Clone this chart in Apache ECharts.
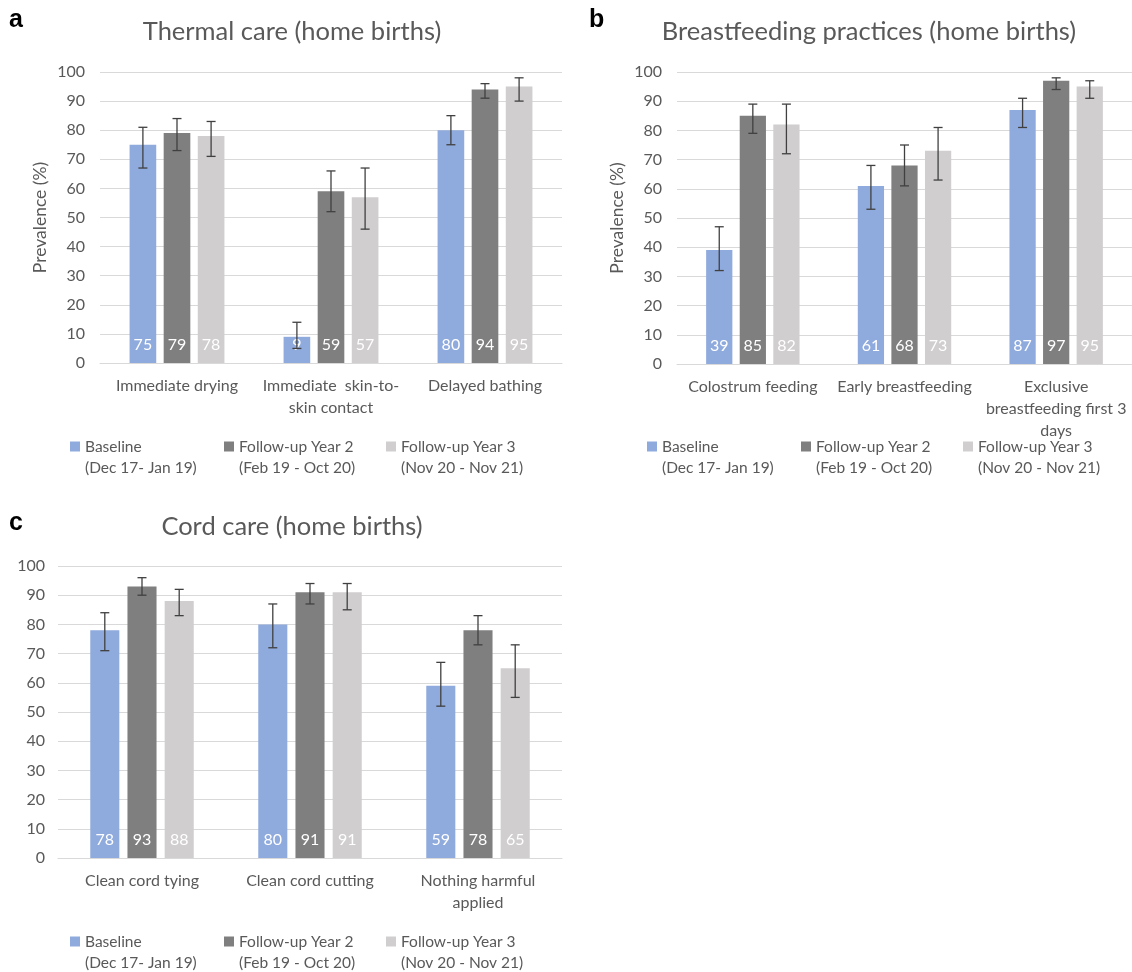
<!DOCTYPE html>
<html>
<head>
<meta charset="utf-8">
<script src="https://cdn.jsdelivr.net/npm/echarts@6/dist/echarts.min.js"></script>
<style>
html,body{margin:0;padding:0;background:#fff;}
#chart{width:1132px;height:972px;}
</style>
</head>
<body>
<div id="chart"></div>
<script>
// ---------- data ----------
const seriesNames = ['Baseline', 'Follow-up Year 2', 'Follow-up Year 3'];
const seriesPeriods = ['(Dec 17- Jan 19)', '(Feb 19 - Oct 20)', '(Nov 20 - Nov 21)'];
const yTicks = [0, 10, 20, 30, 40, 50, 60, 70, 80, 90, 100];

// a: Thermal care
const thermalCats = ['Immediate drying', 'Immediate  skin-to-\nskin contact', 'Delayed bathing'];
const thermalBaseline = [75, 9, 80];
const thermalYear2 = [79, 59, 94];
const thermalYear3 = [78, 57, 95];
const thermalBaselineLow = [67, 5, 75];
const thermalBaselineHigh = [81, 14, 85];
const thermalYear2Low = [73, 52, 91];
const thermalYear2High = [84, 66, 96];
const thermalYear3Low = [71, 46, 90];
const thermalYear3High = [83, 67, 98];

// b: Breastfeeding practices
const bfCats = ['Colostrum feeding', 'Early breastfeeding', 'Exclusive\nbreastfeeding first 3\ndays'];
const bfBaseline = [39, 61, 87];
const bfYear2 = [85, 68, 97];
const bfYear3 = [82, 73, 95];
const bfBaselineLow = [32, 53, 81];
const bfBaselineHigh = [47, 68, 91];
const bfYear2Low = [79, 61, 94];
const bfYear2High = [89, 75, 98];
const bfYear3Low = [72, 63, 91];
const bfYear3High = [89, 81, 97];

// c: Cord care
const cordCats = ['Clean cord tying', 'Clean cord cutting', 'Nothing harmful\napplied'];
const cordBaseline = [78, 80, 59];
const cordYear2 = [93, 91, 78];
const cordYear3 = [88, 91, 65];
const cordBaselineLow = [71, 72, 52];
const cordBaselineHigh = [84, 87, 67];
const cordYear2Low = [90, 87, 73];
const cordYear2High = [96, 94, 83];
const cordYear3Low = [83, 85, 55];
const cordYear3High = [92, 94, 73];

// ---------- styles ----------
const colors = ['#8FAADC', '#7F7F7F', '#D0CECE'];
const FONT = 'Lato';
const TXT = '#595959';
const FS = 16;
const BAR_FRAC = 0.173;
const GAP_FRAC = 0.28;

const panels = [
  { cats: thermalCats, vals: [thermalBaseline, thermalYear2, thermalYear3],
    lows: [thermalBaselineLow, thermalYear2Low, thermalYear3Low],
    highs: [thermalBaselineHigh, thermalYear2High, thermalYear3High],
    grid: { left: 100, top: 72, width: 462, height: 291 }, labelMargin: 15, yName: 'Prevalence (%)',
    legendLeft: [70, 224, 386], legendTop: 415 },
  { cats: bfCats, vals: [bfBaseline, bfYear2, bfYear3],
    lows: [bfBaselineLow, bfYear2Low, bfYear3Low],
    highs: [bfBaselineHigh, bfYear2High, bfYear3High],
    grid: { left: 677, top: 72, width: 463, height: 292 }, labelMargin: 15, yName: 'Prevalence (%)',
    legendLeft: [647, 801, 963], legendTop: 415 },
  { cats: cordCats, vals: [cordBaseline, cordYear2, cordYear3],
    lows: [cordBaselineLow, cordYear2Low, cordYear3Low],
    highs: [cordBaselineHigh, cordYear2High, cordYear3High],
    grid: { left: 58, top: 566, width: 504, height: 292 }, labelMargin: 13, yName: '',
    legendLeft: [70, 224, 386], legendTop: 910 }
];

function errRender(k) {
  return function (params, api) {
    const cat = api.value(0);
    const lo = api.coord([cat, api.value(1)]);
    const hi = api.coord([cat, api.value(2)]);
    const bandW = api.size([1, 0])[0];
    const bw = bandW * BAR_FRAC;
    const x = lo[0] + (k - 1) * bw * (1 + GAP_FRAC);
    const cap = 4.5;
    const st = { stroke: '#404040', lineWidth: 1.3 };
    return { type: 'group', children: [
      { type: 'line', shape: { x1: x, y1: hi[1], x2: x, y2: lo[1] }, style: st },
      { type: 'line', shape: { x1: x - cap, y1: hi[1], x2: x + cap, y2: hi[1] }, style: st },
      { type: 'line', shape: { x1: x - cap, y1: lo[1], x2: x + cap, y2: lo[1] }, style: st }
    ]};
  };
}

const grids = [], xAxes = [], yAxes = [], series = [], legends = [];
panels.forEach((p, i) => {
  grids.push(Object.assign({ containLabel: false }, p.grid));
  xAxes.push({
    type: 'category', gridIndex: i, data: p.cats,
    axisLine: { show: true, lineStyle: { color: '#D9D9D9', width: 1 } },
    axisTick: { show: false },
    axisLabel: { color: TXT, fontFamily: FONT, fontSize: FS, lineHeight: 22, margin: 12, interval: 0 }
  });
  yAxes.push({
    type: 'value', gridIndex: i, min: 0, max: 100, interval: 10,
    name: p.yName, nameLocation: 'middle', nameGap: 51, nameRotate: 90,
    nameTextStyle: { color: TXT, fontFamily: FONT, fontSize: 17.5 },
    axisLine: { show: false }, axisTick: { show: false },
    axisLabel: { color: TXT, fontFamily: FONT, fontSize: FS, margin: p.labelMargin,
      formatter: v => (yTicks.indexOf(v) >= 0 ? String(v) : '') },
    splitLine: { lineStyle: { color: '#D9D9D9', width: 1 } }
  });
  for (let k = 0; k < 3; k++) {
    series.push({
      name: seriesNames[k], type: 'bar', xAxisIndex: i, yAxisIndex: i,
      data: p.vals[k], barWidth: (BAR_FRAC * 100) + '%', barGap: (GAP_FRAC * 100) + '%',
      itemStyle: { color: colors[k] }, z: 2,
      label: { show: true, position: 'insideBottom', distance: 10, color: '#FFFFFF',
        fontFamily: FONT, fontSize: FS }
    });
  }
  for (let k = 0; k < 3; k++) {
    series.push({
      name: seriesNames[k], type: 'custom', xAxisIndex: i, yAxisIndex: i, z: 3,
      renderItem: errRender(k), silent: true,
      data: p.cats.map((c, j) => [j, p.lows[k][j], p.highs[k][j]])
    });
  }
  for (let k = 0; k < 3; k++) {
    legends.push({
      data: [{ name: seriesNames[k], icon: 'rect' }],
      left: p.legendLeft[k], top: p.legendTop, padding: 0,
      itemWidth: 10, itemHeight: 10, selectedMode: false,
      itemStyle: { color: colors[k] },
      formatter: () => '\n' + seriesNames[k] + '\n' + seriesPeriods[k],
      textStyle: { color: TXT, fontFamily: FONT, fontSize: 15.5, lineHeight: 21 }
    });
  }
});

const titleStyle = { fill: TXT, font: '25.5px Lato', textAlign: 'center', textVerticalAlign: 'middle' };
const letterStyle = { fill: '#000', font: 'bold 25px "Liberation Sans"', textAlign: 'left', textVerticalAlign: 'middle' };

const chart = echarts.init(document.getElementById('chart'));
chart.setOption({
  backgroundColor: '#fff',
  animation: false,
  grid: grids, xAxis: xAxes, yAxis: yAxes, series: series, legend: legends,
  graphic: [
    { type: 'text', x: 292, y: 32, style: Object.assign({ text: 'Thermal care (home births)' }, titleStyle) },
    { type: 'text', x: 869, y: 32, style: Object.assign({ text: 'Breastfeeding practices (home births)' }, titleStyle) },
    { type: 'text', x: 292, y: 527, style: Object.assign({ text: 'Cord care (home births)' }, titleStyle) },
    { type: 'text', x: 9, y: 20, style: Object.assign({ text: 'a' }, letterStyle) },
    { type: 'text', x: 589, y: 20, style: Object.assign({ text: 'b' }, letterStyle) },
    { type: 'text', x: 9, y: 523, style: Object.assign({ text: 'c' }, letterStyle) }
  ]
});
</script>
</body>
</html>
